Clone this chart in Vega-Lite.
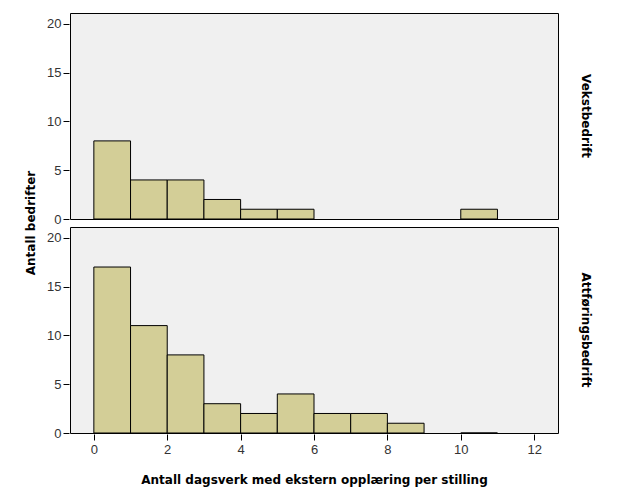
{
  "$schema": "https://vega.github.io/schema/vega-lite/v6.json",
  "background": "white",
  "padding": {"left": 24, "top": 12, "right": 5, "bottom": 5},
  "data": {"values": [
    {"g": "Vekstbedrift", "x0": 0, "x1": 1, "n": 8},
    {"g": "Vekstbedrift", "x0": 1, "x1": 2, "n": 4},
    {"g": "Vekstbedrift", "x0": 2, "x1": 3, "n": 4},
    {"g": "Vekstbedrift", "x0": 3, "x1": 4, "n": 2},
    {"g": "Vekstbedrift", "x0": 4, "x1": 5, "n": 1},
    {"g": "Vekstbedrift", "x0": 5, "x1": 6, "n": 1},
    {"g": "Vekstbedrift", "x0": 10, "x1": 11, "n": 1},
    {"g": "Attføringsbedrift", "x0": 0, "x1": 1, "n": 17},
    {"g": "Attføringsbedrift", "x0": 1, "x1": 2, "n": 11},
    {"g": "Attføringsbedrift", "x0": 2, "x1": 3, "n": 8},
    {"g": "Attføringsbedrift", "x0": 3, "x1": 4, "n": 3},
    {"g": "Attføringsbedrift", "x0": 4, "x1": 5, "n": 2},
    {"g": "Attføringsbedrift", "x0": 5, "x1": 6, "n": 4},
    {"g": "Attføringsbedrift", "x0": 6, "x1": 7, "n": 2},
    {"g": "Attføringsbedrift", "x0": 7, "x1": 8, "n": 2},
    {"g": "Attføringsbedrift", "x0": 8, "x1": 9, "n": 1},
    {"g": "Attføringsbedrift", "x0": 10, "x1": 11, "n": 0}
  ]},
  "facet": {
    "row": {
      "field": "g", "type": "nominal",
      "sort": ["Vekstbedrift", "Attføringsbedrift"],
      "title": "Antall bedrifter",
      "header": {
        "labelOrient": "right", "labelAngle": 90, "labelFont": "DejaVu Sans",
        "labelFontSize": 12, "labelFontWeight": "bold", "labelColor": "black",
        "labelPadding": 15, "labelAlign": "center", "labelBaseline": "middle",
        "titleOrient": "left", "titleFont": "DejaVu Sans", "titleFontSize": 12, "titleFontWeight": "bold",
        "titleColor": "black", "titlePadding": -2
      }
    }
  },
  "spacing": 6,
  "spec": {
    "width": 488,
    "height": 206,
    "mark": {"type": "bar", "color": "#d3ce97", "stroke": "black", "strokeWidth": 1},
    "encoding": {
      "x": {
        "field": "x0", "type": "quantitative",
        "scale": {"domain": [-0.65, 12.65], "nice": false, "zero": false},
        "axis": {"values": [0, 2, 4, 6, 8, 10, 12], "title": "Antall dagsverk med ekstern opplæring per stilling", "grid": false, "domain": false,
          "tickColor": "black", "tickSize": 6, "labelColor": "#333", "labelFont": "Liberation Sans", "labelFontSize": 13, "labelPadding": 3,
          "titleFont": "DejaVu Sans", "titleFontSize": 12, "titleFontWeight": "bold", "titleColor": "black", "titlePadding": 18}
      },
      "x2": {"field": "x1"},
      "y": {
        "field": "n", "type": "quantitative",
        "scale": {"domain": [0, 21.1], "nice": false},
        "axis": {"values": [0, 5, 10, 15, 20], "title": null, "grid": false, "domain": false,
          "tickColor": "black", "tickSize": 6, "labelColor": "#333", "labelFont": "Liberation Sans", "labelFontSize": 13, "labelPadding": 2}
      },
      "y2": {"datum": 0}
    }
  },
  "config": {
    "view": {"fill": "#f0f0f0", "stroke": "black", "strokeWidth": 1}
  }
}
